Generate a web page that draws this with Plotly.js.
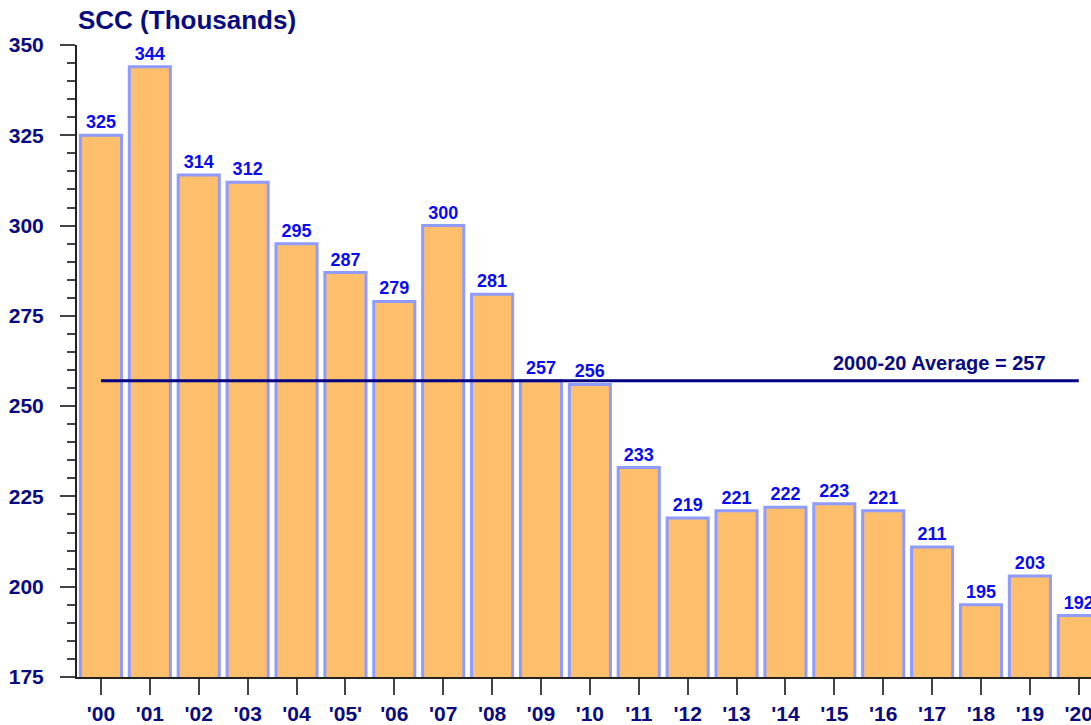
<!DOCTYPE html>
<html>
<head>
<meta charset="utf-8">
<script src="https://cdn.plot.ly/plotly-3.0.1.min.js"></script>
<style>html,body{margin:0;padding:0;background:#fff;}#chart{width:1091px;height:725px;}</style>
</head>
<body>
<div id="chart"></div>
<script>
const years = ["'00","'01","'02","'03","'04","'05'","'06","'07","'08","'09","'10","'11","'12","'13","'14","'15","'16","'17","'18","'19","'20"];
const scc = [325,344,314,312,295,287,279,300,281,257,256,233,219,221,222,223,221,211,195,203,192];
const averageValue = 257;
const averageLabel = "2000-20 Average = 257";
const yTicks = [175,200,225,250,275,300,325,350];

const navy = "#0a0a80";
const font = "Arial, 'Liberation Sans', sans-serif";

const bars = {
  type: "bar",
  x: years,
  y: scc,
  width: 0.84,
  marker: {color: "#FDBF6B", line: {color: "#8F9BFF", width: 3}},
  text: scc.map(String),
  textposition: "outside",
  textfont: {family: font, size: 18, color: "#0A0AF5", weight: "bold"},
  cliponaxis: false,
  hoverinfo: "x+y"
};
const avg = {
  type: "scatter",
  mode: "lines",
  x: [years[0], years[years.length-1]],
  y: [averageValue, averageValue],
  line: {color: "#000080", width: 3},
  hoverinfo: "skip"
};

const layout = {
  width: 1091, height: 725,
  margin: {l: 77, r: 0, t: 45, b: 48},
  paper_bgcolor: "#fff", plot_bgcolor: "#fff",
  showlegend: false,
  font: {family: font},
  title: {
    text: "<b>SCC (Thousands)</b>",
    font: {family: font, size: 26, color: navy},
    xref: "container", x: 78/1091, xanchor: "left",
    yref: "container", y: 1 - 20/725, yanchor: "middle"
  },
  xaxis: {
    type: "category",
    range: [-0.49, 20.25],
    showline: true, linecolor: "#222", linewidth: 2,
    ticks: "outside", ticklen: 16, tickwidth: 2, tickcolor: "#444",
    ticklabelstandoff: 1,
    tickfont: {family: font, size: 21, color: navy, weight: "bold"},
    showgrid: false, zeroline: false
  },
  yaxis: {
    range: [175, 350],
    tickvals: yTicks,
    showline: true, linecolor: "#222", linewidth: 2,
    ticks: "outside", ticklen: 15, tickwidth: 2, tickcolor: "#444",
    ticklabelstandoff: 12,
    minor: {dtick: 5, ticks: "outside", ticklen: 8, tickwidth: 2, tickcolor: "#444", showgrid: false},
    tickfont: {family: font, size: 21, color: navy, weight: "bold"},
    showgrid: false, zeroline: false
  },
  annotations: [{
    x: 17.16, y: averageValue, xref: "x", yref: "y",
    text: "<b>" + averageLabel + "</b>",
    showarrow: false, yanchor: "bottom", yshift: 5,
    font: {family: font, size: 20, color: navy}
  }]
};

Plotly.newPlot("chart", [bars, avg], layout, {displayModeBar: false, staticPlot: true});
</script>
</body>
</html>
